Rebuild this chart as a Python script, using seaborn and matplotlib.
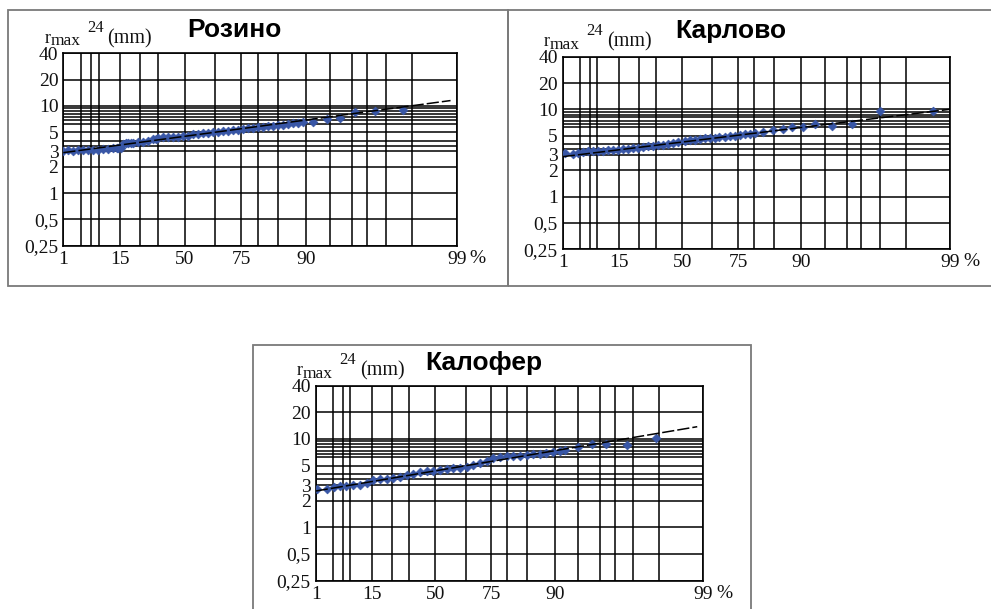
import numpy as np
import matplotlib
matplotlib.use("Agg")
import matplotlib.pyplot as plt
import seaborn as sns
import pandas as pd
from matplotlib.patches import Rectangle
from matplotlib.ticker import FixedLocator, FixedFormatter, NullFormatter

# ---- Розино: empirical probability (%) and r_max (mm)
rozino_p = [1.0, 1.4, 1.9, 2.6, 3.4, 4.4, 5.6, 6.9, 8.5, 10.2, 12.1, 13.5, 14.2, 15.5,
            16.4, 17.5, 18.8, 20.0, 21.3, 23.9, 26.6, 29.4, 32.2, 33.5, 35.1, 37.9,
            40.8, 43.6, 46.4, 49.2, 51.8, 54.5, 57.0, 59.5, 61.8, 64.1, 66.2, 68.3,
            70.3, 72.2, 74.0, 75.7, 77.3, 78.8, 80.2, 81.5, 82.8, 84.0, 85.1, 86.1,
            87.1, 88.0, 88.8, 89.6, 91.0, 92.7, 94.0, 95.2, 96.5, 97.7]
rozino_r = [3.0, 3.1, 3.05, 3.1, 3.1, 3.15, 3.15, 3.15, 3.2, 3.2, 3.25, 3.3, 3.25, 3.3,
            3.7, 3.75, 3.8, 3.8, 3.8, 3.85, 3.9, 3.95, 4.15, 4.2, 4.3, 4.35,
            4.4, 4.45, 4.45, 4.5, 4.55, 4.7, 4.8, 4.85, 4.9, 5.0, 5.05, 5.1,
            5.2, 5.3, 5.35, 5.45, 5.55, 5.6, 5.7, 5.8, 5.85, 5.95, 6.05, 6.1,
            6.2, 6.3, 6.35, 6.45, 6.6, 7.0, 7.2, 8.5, 8.7, 8.9]
rozino_fit_p = [1.0, 98.9]
rozino_fit_r = [2.91, 11.5]

# ---- Карлово
karlovo_p = [1.2, 2.0, 2.7, 3.5, 4.6, 5.8, 7.3, 8.8, 10.6, 12.6, 14.8, 17.0, 19.6,
             22.2, 24.9, 27.7, 30.5, 33.3, 36.1, 39.0, 42.1, 45.0, 47.8, 51.3, 54.0,
             56.7, 59.0, 61.6, 64.0, 66.1, 68.0, 70.3, 72.0, 74.0, 75.7, 77.3, 78.8,
             80.3, 82.5, 84.8, 86.9, 88.4, 90.2, 91.9, 93.7, 95.4, 97.0, 98.7]
karlovo_r = [3.15, 3.1, 3.2, 3.25, 3.3, 3.3, 3.35, 3.35, 3.4, 3.45, 3.45, 3.5, 3.5,
             3.6, 3.65, 3.75, 3.8, 3.85, 3.9, 3.95, 4.0, 4.1, 4.2, 4.35, 4.4,
             4.5, 4.6, 4.65, 4.7, 4.75, 4.8, 4.85, 4.95, 5.0, 5.1, 5.2, 5.25,
             5.35, 5.5, 5.8, 5.9, 6.3, 6.35, 6.75, 6.5, 6.75, 9.6, 9.6]
karlovo_fit_p = [1.0, 99.0]
karlovo_fit_r = [2.87, 10.0]

# ---- Калофер
kalofer_p = [1.1, 2.1, 3.1, 4.4, 5.9, 7.9, 10.2, 12.8, 15.7, 18.9, 22.3, 26.0, 29.7,
             33.5, 37.4, 41.3, 45.1, 48.8, 52.5, 56.0, 59.3, 62.5, 65.5, 68.3, 71.0,
             73.5, 75.8, 77.9, 79.9, 81.7, 83.4, 84.9, 86.3, 87.6, 88.7, 89.8, 90.8,
             91.4, 93.0, 94.3, 95.4, 96.7, 97.9]
kalofer_r = [2.75, 2.7, 2.85, 2.95, 2.95, 3.0, 3.05, 3.15, 3.4, 3.5, 3.55, 3.6, 3.75,
             3.95, 4.05, 4.2, 4.3, 4.35, 4.45, 4.55, 4.65, 4.75, 4.85, 5.1, 5.4,
             5.6, 6.1, 6.3, 6.35, 6.4, 6.5, 6.6, 6.7, 6.85, 7.0, 7.1, 7.3,
             7.5, 8.2, 8.8, 8.7, 8.6, 10.2]
kalofer_fit_p = [1.0, 98.9]
kalofer_fit_r = [2.58, 13.76]

titles = ["Розино", "Карлово", "Калофер"]

# ---- axis ticks / grid of the probability paper
x_major = [1, 15, 50, 75, 90, 99]
x_major_labels = ["1", "15", "50", "75", "90", "99"]
x_minor = [3, 5, 7, 25, 35, 65, 80, 85, 93, 95, 96, 97, 98]
y_major = [0.25, 0.5, 1, 2, 3, 5, 10, 20, 40]
y_major_labels = ["0,25", "0,5", "1", "2", "3", "5", "10", "20", "40"]
y_minor = [3.5, 4.0, 6.2, 6.8, 7.4, 8.1, 8.7, 9.4]

BLUE = "#3856a6"
TXT = "#111111"
SERIF = "Liberation Serif"
SANS = "Liberation Sans"

W, H = 991, 609


def gumbel_fwd(p):
    q = np.clip(np.asarray(p, dtype=float) / 100.0, 1e-9, 1 - 1e-9)
    return -np.log(-np.log(q))


def gumbel_inv(u):
    return 100.0 * np.exp(-np.exp(-np.asarray(u, dtype=float)))


def fx(px):
    return px / W


def fy(py):
    return 1.0 - py / H


sns.set_style("white")
plt.rcParams["font.family"] = [SERIF, "DejaVu Serif"]

fig = plt.figure(figsize=(W / 100, H / 100), dpi=100)
fig.patch.set_facecolor("white")

# frames around each chart
for (x0, y0, x1, y1) in [(8, 10, 508, 286), (508, 10, 996, 286), (253, 345, 751, 614)]:
    fig.patches.append(Rectangle((fx(x0), fy(y1)), (x1 - x0) / W, (y1 - y0) / H,
                                 transform=fig.transFigure, fill=False,
                                 edgecolor="#7a7a7a", lw=1.3, zorder=0))

panels = [
    (63.3, 456.7, 53.3, 245.7, rozino_p, rozino_r, rozino_fit_p, rozino_fit_r, 23),
    (562.7, 950.0, 56.7, 249.3, karlovo_p, karlovo_r, karlovo_fit_p, karlovo_fit_r, 26),
    (315.7, 703.3, 385.7, 580.7, kalofer_p, kalofer_r, kalofer_fit_p, kalofer_fit_r, 23),
]

for title, (left, right, top, bottom, p, r, fp, fr, tdy) in zip(titles, panels):
    ax = fig.add_axes([fx(left), fy(bottom), (right - left) / W, (bottom - top) / H])
    pts = pd.DataFrame({"p": p, "r": r})
    fit = pd.DataFrame({"p": fp, "r": fr})
    sns.scatterplot(data=pts, x="p", y="r", marker="D", s=20, color=BLUE,
                    edgecolor=BLUE, linewidth=0.5, ax=ax, zorder=3)
    sns.lineplot(data=fit, x="p", y="r", color="black", lw=1.1,
                 linestyle=(0, (8, 2)), ax=ax, zorder=4)

    ax.set_xscale("function", functions=(gumbel_fwd, gumbel_inv))
    ax.set_yscale("log")
    ax.set_xlim(1, 99)
    ax.set_ylim(0.25, 40)

    ax.xaxis.set_major_locator(FixedLocator(x_major))
    ax.xaxis.set_major_formatter(FixedFormatter(x_major_labels))
    ax.xaxis.set_minor_locator(FixedLocator(x_minor))
    ax.xaxis.set_minor_formatter(NullFormatter())
    ax.yaxis.set_major_locator(FixedLocator(y_major))
    ax.yaxis.set_major_formatter(FixedFormatter(y_major_labels))
    ax.yaxis.set_minor_locator(FixedLocator(y_minor))
    ax.yaxis.set_minor_formatter(NullFormatter())

    ax.grid(True, which="both", color="black", lw=1.1)
    ax.set_axisbelow(True)
    ax.tick_params(which="both", length=0)
    ax.tick_params(axis="x", pad=3.5, labelsize=14, labelcolor=TXT)
    ax.tick_params(axis="y", pad=3.5, labelsize=14, labelcolor=TXT)
    ax.set_xlabel("")
    ax.set_ylabel("")
    for sp in ax.spines.values():
        sp.set_visible(True)
        sp.set_color("black")
        sp.set_linewidth(1.2)

    # percent sign after the last probability label
    fig.text(fx(right + 13), fy(bottom + 12.5), "%", ha="left", va="center",
             fontsize=14, color=TXT)

    # axis quantity: r_max^24 (mm)
    fig.text(fx(left - 19), fy(top - 10.5), "r", fontsize=13, va="baseline", color=TXT)
    fig.text(fx(left - 13), fy(top - 8), "max", fontsize=12.5, va="baseline", color=TXT)
    fig.text(fx(left + 24), fy(top - 21.5), "24", fontsize=12, va="baseline", color=TXT)
    fig.text(fx(left + 44), fy(top - 10), "(mm)", fontsize=14.5, va="baseline", color=TXT)

    # station name
    fig.text(fx(left + 0.435 * (right - left)), fy(top - tdy), title, ha="center",
             va="center", fontsize=19, fontweight="bold", family=[SANS, "DejaVu Sans"],
             color="black")

fig.savefig("out.png", dpi=100, facecolor="white")
